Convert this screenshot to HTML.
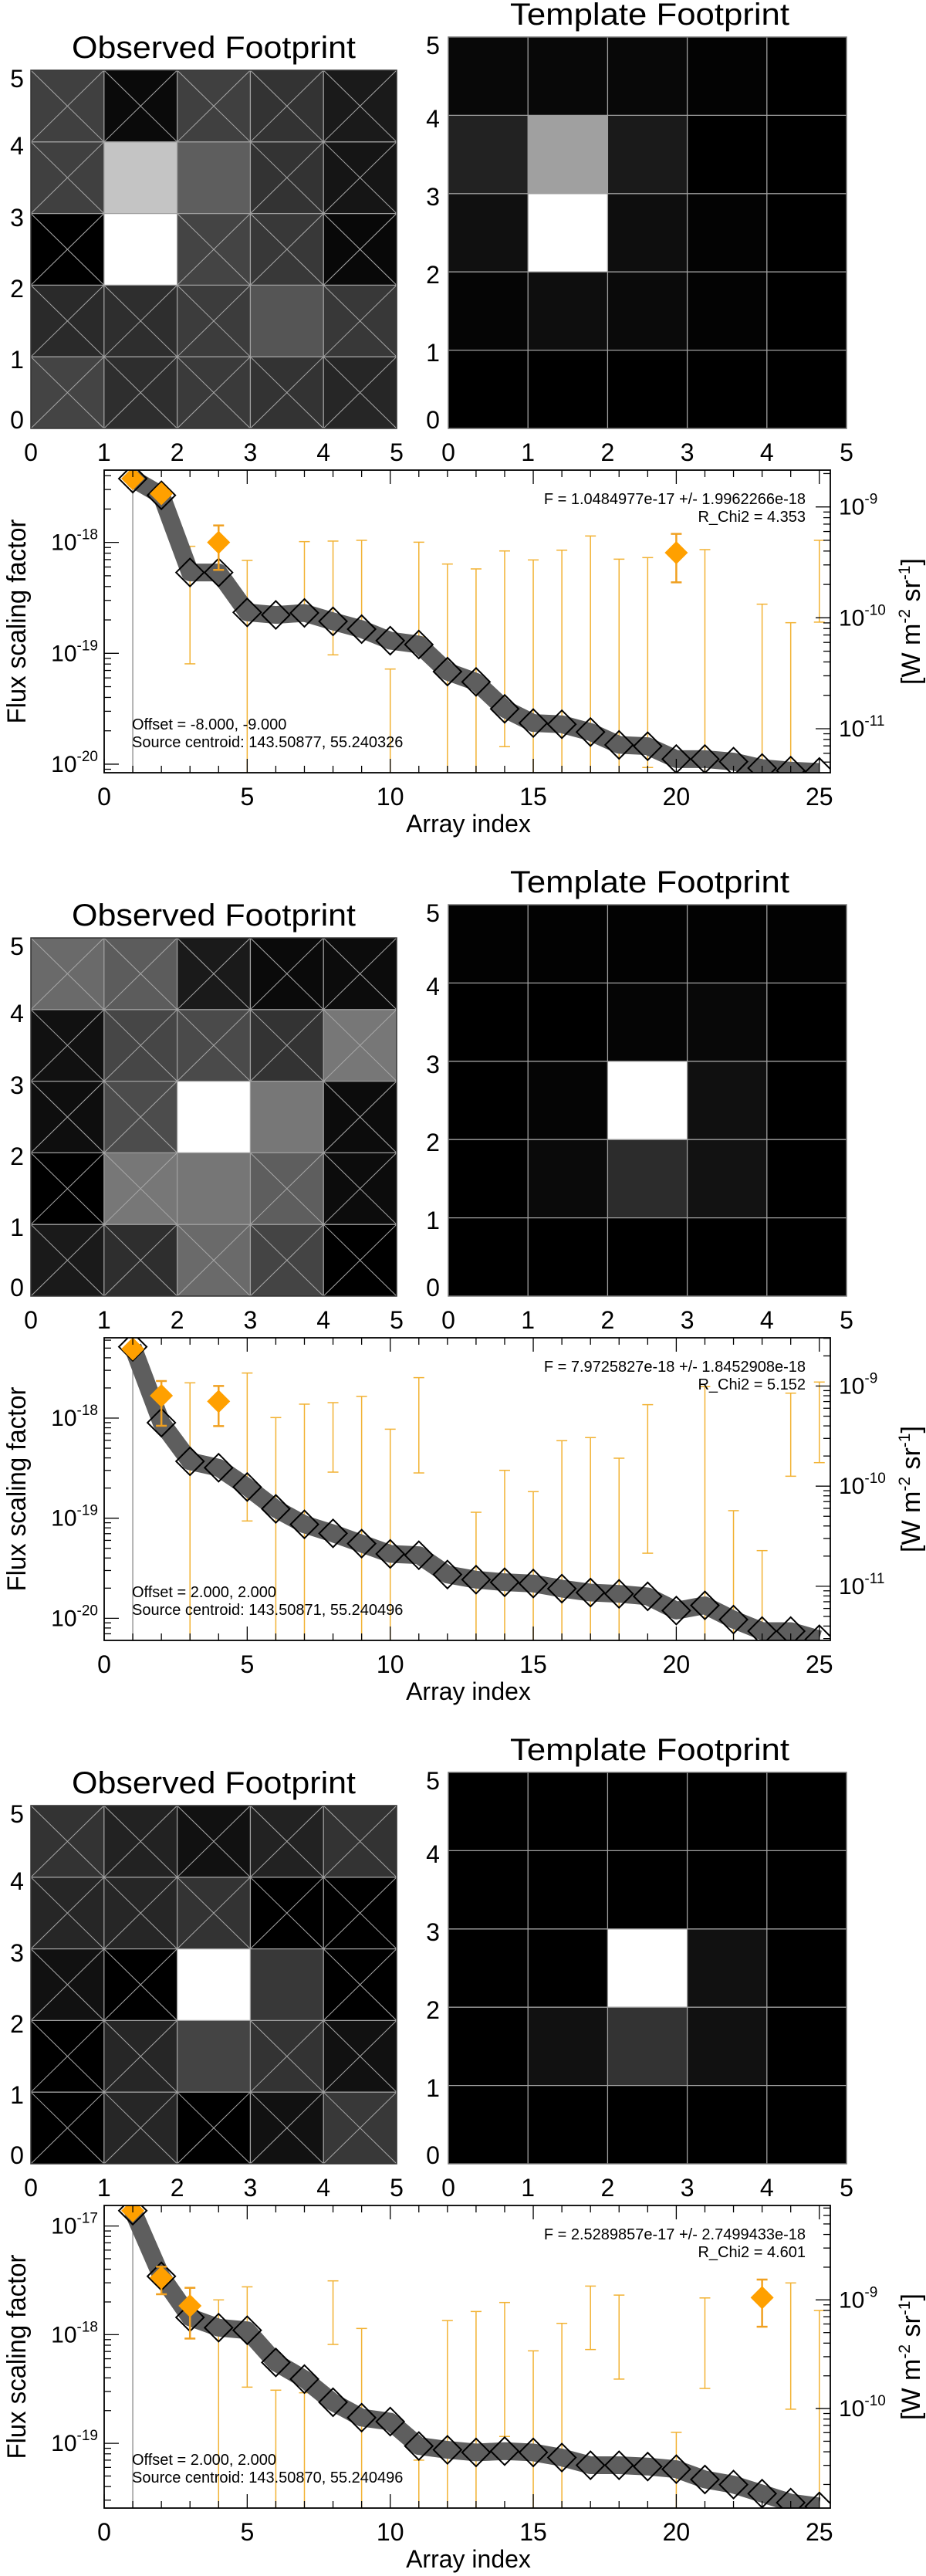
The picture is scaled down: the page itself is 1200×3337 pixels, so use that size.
<!DOCTYPE html>
<html><head><meta charset="utf-8"><title>Footprint fits</title>
<style>html,body{margin:0;padding:0;background:#fff}svg{display:block}text{font-family:"Liberation Sans",sans-serif;fill:#000}</style>
</head><body>
<svg id="fig" xmlns="http://www.w3.org/2000/svg" width="1200" height="3337" viewBox="0 0 1200 3337">
<rect width="1200" height="3337" fill="#fff"/>
</svg>
<script>
// ---------- DATA ----------
const obsGrid1 = [["#404040","#0a0a0a","#404040","#333333","#1a1a1a"],["#404040","#c4c4c4","#5e5e5e","#333333","#151515"],["#000000","#ffffff","#444444","#383838","#080808"],["#2a2a2a","#2e2e2e","#3c3c3c","#555555","#383838"],["#444444","#2e2e2e","#3a3a3a","#333333","#262626"]];
const tplGrid1 = [["#080808","#080808","#080808","#030303","#000000"],["#222222","#a0a0a0","#1a1a1a","#000000","#000000"],["#101010","#ffffff","#0e0e0e","#030303","#000000"],["#050505","#0e0e0e","#0a0a0a","#030303","#000000"],["#000000","#000000","#000000","#000000","#000000"]];
const obsGrid2 = [["#6a6a6a","#5c5c5c","#1a1a1a","#0a0a0a","#0c0c0c"],["#111111","#464646","#4a4a4a","#333333","#777777"],["#0e0e0e","#4c4c4c","#ffffff","#777777","#0c0c0c"],["#000000","#777777","#767676","#5e5e5e","#0c0c0c"],["#1a1a1a","#2e2e2e","#6a6a6a","#444444","#000000"]];
const tplGrid2 = [["#020202","#020202","#020202","#020202","#020202"],["#000000","#000000","#050505","#080808","#000000"],["#000000","#050505","#ffffff","#101010","#000000"],["#000000","#0a0a0a","#2c2c2c","#121212","#000000"],["#000000","#000000","#000000","#000000","#000000"]];
const obsGrid3 = [["#333333","#222222","#111111","#222222","#333333"],["#262626","#262626","#333333","#000000","#000000"],["#111111","#000000","#ffffff","#383838","#000000"],["#000000","#262626","#444444","#333333","#111111"],["#000000","#262626","#000000","#111111","#383838"]];
const tplGrid3 = [["#000000","#000000","#000000","#000000","#000000"],["#000000","#000000","#000000","#000000","#000000"],["#000000","#000000","#ffffff","#111111","#000000"],["#000000","#111111","#333333","#111111","#000000"],["#000000","#000000","#000000","#000000","#000000"]];
// cells used in the fit (no cross): [row, col], row 0 = top
const fitCells1 = [[1,1],[1,2],[2,1],[3,3]];
const fitCells2 = [[2,2],[2,3],[3,2]];
const fitCells3 = [[2,2],[2,3],[3,2]];

// log10 flux scaling factors, array index 1..25
const logFlux1 = [-17.425,-17.575,-18.271,-18.271,-18.631,-18.654,-18.636,-18.712,-18.782,-18.886,-18.921,-19.165,-19.258,-19.501,-19.629,-19.640,-19.710,-19.826,-19.838,-19.954,-19.954,-19.977,-20.035,-20.058,-20.07];
const errIdx1 = [3,5,7,8,9,10,11,12,13,14,15,16,17,18,19,21,23,24,25];
const errHi1 = [-18.035,-18.162,-17.993,-17.988,-17.981,-19.142,-17.998,-18.195,-18.239,-18.077,-18.158,-18.070,-17.942,-18.151,-18.137,-18.065,-18.557,-18.724,-17.981];
const errLo1 = [-19.095,null,-18.624,-19.014,-18.777,null,-18.852,null,null,-19.842,null,null,null,null,-20.030,null,null,null,-18.719];
const orgIdx1 = [1,2,4,20];
const orgVal1 = [-17.425,-17.56,-18.0,-18.093];
const orgHi1 = [null,null,-17.847,-17.923];
const orgLo1 = [null,null,-18.248,-18.360];
const yRange1 = [-20.077,-17.348];

const logFlux2 = [-17.288,-18.046,-18.432,-18.496,-18.689,-18.907,-19.062,-19.152,-19.254,-19.357,-19.370,-19.563,-19.614,-19.640,-19.653,-19.704,-19.743,-19.756,-19.781,-19.923,-19.871,-20.013,-20.128,-20.128,-20.21];
const errIdx2 = [3,5,6,7,8,9,10,11,13,14,15,16,17,18,19,21,22,23,24,25];
const errHi2 = [-17.648,-17.550,-17.995,-17.861,-17.846,-17.784,-18.111,-17.596,-18.941,-18.522,-18.735,-18.226,-18.195,-18.401,-17.866,-17.686,-18.925,-19.324,-17.751,-17.640];
const errLo2 = [null,-19.028,null,null,-18.540,null,null,-18.548,null,null,null,null,null,null,-19.350,null,null,null,-18.581,-18.445];
const orgIdx2 = [1,2,4];
const orgVal2 = [-17.31,-17.776,-17.833];
const orgHi2 = [null,-17.630,-17.679];
const orgLo2 = [null,-18.077,-18.080];
const yRange2 = [-20.221,-17.198];

const logFlux3 = [-16.859,-17.463,-17.841,-17.936,-17.960,-18.256,-18.409,-18.622,-18.764,-18.800,-19.025,-19.060,-19.084,-19.072,-19.084,-19.131,-19.202,-19.202,-19.214,-19.238,-19.333,-19.380,-19.463,-19.546,-19.581];
const errIdx3 = [4,5,6,7,8,9,11,12,13,14,15,16,17,18,20,21,24,25];
const errHi3 = [-17.680,-17.560,-18.511,-18.535,-17.505,-17.943,-19.155,-17.870,-17.787,-17.704,-18.149,-17.896,-17.553,-17.636,-18.899,-17.662,-17.524,-17.778];
const errLo3 = [null,-18.483,null,null,-18.090,null,null,null,null,-18.937,null,null,-18.137,-18.409,null,-18.495,-18.686,null];
const orgIdx3 = [1,2,3,23];
const orgVal3 = [-16.859,-17.475,-17.735,-17.659];
const orgHi3 = [null,-17.375,-17.569,-17.493];
const orgLo3 = [null,-17.628,-18.036,-17.927];
const yRange3 = [-19.596,-16.811];

const fitText = ["F = 1.0484977e-17 +/- 1.9962266e-18","F = 7.9725827e-18 +/- 1.8452908e-18","F = 2.5289857e-17 +/- 2.7499433e-18"];
const chiText = ["R_Chi2 = 4.353","R_Chi2 = 5.152","R_Chi2 = 4.601"];
const offText = ["Offset = -8.000, -9.000","Offset = 2.000, 2.000","Offset = 2.000, 2.000"];
const srcText = ["Source centroid: 143.50877, 55.240326","Source centroid: 143.50871, 55.240496","Source centroid: 143.50870, 55.240496"];
const xTicks = [0,5,10,15,20,25];
const gridTicks = [0,1,2,3,4,5];
const rightOffset = 8.68;

// ---------- DRAW ----------
const NS="http://www.w3.org/2000/svg";
const svg=document.getElementById('fig');
function el(tag,attrs,parent){const e=document.createElementNS(NS,tag);for(const k in attrs)e.setAttribute(k,attrs[k]);(parent||svg).appendChild(e);return e;}
function txt(s,attrs,parent){const t=el('text',attrs,parent);t.textContent=s;return t;}

function drawGrid(g,x0,x1,y0,y1,colors,fitCells,labelX,labelYs,name){
  const cw=(x1-x0)/5,ch=(y1-y0)/5;
  const crossed=fitCells!==null;
  for(let r=0;r<5;r++)for(let c=0;c<5;c++){
    const cell=el('rect',{x:x0+c*cw,y:y0+r*ch,width:cw+0.5,height:ch+0.5,fill:colors[r][c]},g);
    
    
    if(crossed && !fitCells.some(fc=>fc[0]===r&&fc[1]===c)){
      el('line',{x1:x0+c*cw,y1:y0+r*ch,x2:x0+(c+1)*cw,y2:y0+(r+1)*ch,stroke:'#a8a8a8','stroke-width':1},g);
      el('line',{x1:x0+(c+1)*cw,y1:y0+r*ch,x2:x0+c*cw,y2:y0+(r+1)*ch,stroke:'#a8a8a8','stroke-width':1},g);
    }
  }
  for(let i=1;i<5;i++){
    el('line',{x1:x0+i*cw,y1:y0,x2:x0+i*cw,y2:y1,stroke:'#a0a0a0','stroke-width':1.3},g);
    el('line',{x1:x0,y1:y0+i*ch,x2:x1,y2:y0+i*ch,stroke:'#a0a0a0','stroke-width':1.3},g);
  }
  el('rect',{x:x0,y:y0,width:x1-x0,height:y1-y0,fill:'none',stroke:crossed?'#333':'#777','stroke-width':1.5},g);
  gridTicks.forEach((v,i)=>{
    const t=txt(String(v),{x:x0+v*cw,y:y1+42,'font-size':32,'text-anchor':'middle'},g);
    
    
    const t2=txt(String(v),{x:labelX,y:labelYs[i],'font-size':32,'text-anchor':'middle'},g);
    
    
  });
}

function diamond(cx,cy,h){return `${cx},${cy-h} ${cx+h},${cy} ${cx},${cy+h} ${cx-h},${cy}`;}

function drawChart(g,off,logFlux,errIdx,errHi,errLo,orgIdx,orgVal,orgHi,orgLo,yRange,k){
  const L=135,R=1076,T=609+off,B=1001+off;
  const xs=v=>L+v*37.07;
  const ys=v=>B-(v-yRange[0])/(yRange[1]-yRange[0])*(B-T);
  const clampY=v=>Math.max(T,Math.min(B,ys(v)));
  const cp=el('clipPath',{id:'clip'+k},g);
  el('rect',{x:L,y:T,width:R-L,height:B-T},cp);
  const pg=el('g',{'clip-path':`url(#clip${k})`},g);
  
  
  errIdx.forEach((ix,i)=>{
    const x=xs(ix),yt=clampY(errHi[i]),yb=errLo[i]===null?B:clampY(errLo[i]);
    const eb=el('line',{x1:x,y1:yt,x2:x,y2:yb,stroke:'#f2b233','stroke-width':1.5},pg);
    
    
    el('line',{x1:x-7,y1:yt,x2:x+7,y2:yt,stroke:'#f2b233','stroke-width':1.5},pg);
    if(errLo[i]!==null)el('line',{x1:x-7,y1:yb,x2:x+7,y2:yb,stroke:'#f2b233','stroke-width':1.5},pg);
  });
  el('line',{x1:xs(1),y1:ys(logFlux[0]),x2:xs(1),y2:B,stroke:'#999','stroke-width':1.5},pg);
  const pts=logFlux.map((v,i)=>`${xs(i+1)},${ys(v)}`).join(' ');
  const band=el('polyline',{points:pts,fill:'none',stroke:'#5e5e5e','stroke-width':23,'stroke-linejoin':'round'},pg);
  
  
  logFlux.forEach((v,i)=>{
    const d=el('polygon',{points:diamond(xs(i+1),ys(v),18),fill:'none',stroke:'#000','stroke-width':2},pg);
    
    
  });
  orgIdx.forEach((ix,i)=>{
    const x=xs(ix);
    if(orgHi[i]!==null){
      const yt=ys(orgHi[i]),yb=ys(orgLo[i]);
      el('line',{x1:x,y1:yt,x2:x,y2:yb,stroke:'#f0a020','stroke-width':2.5},pg);
      el('line',{x1:x-7,y1:yt,x2:x+7,y2:yt,stroke:'#f0a020','stroke-width':2.5},pg);
      el('line',{x1:x-7,y1:yb,x2:x+7,y2:yb,stroke:'#f0a020','stroke-width':2.5},pg);
    }
    const o=el('polygon',{points:diamond(x,ys(orgVal[i]),15),fill:'#ffa000'},pg);
    
    
  });
  el('rect',{x:L,y:T,width:R-L,height:B-T,fill:'none',stroke:'#000','stroke-width':1.8},g);
  for(let v=0;v<=25;v++){
    const len=v%5===0?18:9,x=xs(v);
    el('line',{x1:x,y1:B,x2:x,y2:B-len,stroke:'#000','stroke-width':1.3},g);
    el('line',{x1:x,y1:T,x2:x,y2:T+len,stroke:'#000','stroke-width':1.3},g);
  }
  xTicks.forEach(v=>{
    const t=txt(String(v),{x:xs(v),y:B+42,'font-size':32,'text-anchor':'middle'},g);
    
    
  });
  function logTicks(lo,hi,xEdge,dir,labelFn){
    for(let d=Math.floor(lo);d<=Math.ceil(hi);d++){
      for(let m=1;m<10;m++){
        const lv=d+Math.log10(m);
        if(lv<lo||lv>hi)continue;
        const y=B-(lv-lo)/(hi-lo)*(B-T);
        const len=m===1?19:9;
        el('line',{x1:xEdge,y1:y,x2:xEdge+dir*len,y2:y,stroke:'#000','stroke-width':1.3},g);
        if(m===1)labelFn(d,y);
      }
    }
  }
  logTicks(yRange[0],yRange[1],L,1,(d,y)=>{
    const t=el('text',{x:127,y:y+10,'font-size':30,'text-anchor':'end'},g);
    
    
    const a=document.createElementNS(NS,'tspan');a.textContent='10';t.appendChild(a);
    const b=document.createElementNS(NS,'tspan');b.setAttribute('dy','-14');b.setAttribute('font-size','19');b.textContent=String(d);t.appendChild(b);
  });
  logTicks(yRange[0]+rightOffset,yRange[1]+rightOffset,R,-1,(d,y)=>{
    const t=el('text',{x:1087,y:y+10,'font-size':30,'text-anchor':'start'},g);
    
    
    const a=document.createElementNS(NS,'tspan');a.textContent='10';t.appendChild(a);
    const b=document.createElementNS(NS,'tspan');b.setAttribute('dy','-14');b.setAttribute('font-size','19');b.textContent=String(d);t.appendChild(b);
  });
  let t=txt(fitText[k],{x:1044,y:653+off,'font-size':20,'text-anchor':'end'},g);
  
  t=txt(chiText[k],{x:1044,y:676+off,'font-size':20,'text-anchor':'end'},g);
  
  t=txt(offText[k],{x:171,y:945+off,'font-size':20},g);
  
  t=txt(srcText[k],{x:171,y:968+off,'font-size':20},g);
  
  t=txt('Array index',{x:607,y:1078+off,'font-size':32,'text-anchor':'middle'},g);
  
  t=txt('Flux scaling factor',{x:0,y:0,'font-size':34,'text-anchor':'middle',transform:`translate(33,${805+off}) rotate(-90)`,textLength:265,lengthAdjust:'spacingAndGlyphs'},g);
  
  t=el('text',{x:0,y:0,'font-size':34,'text-anchor':'middle',transform:`translate(1192,${805+off}) rotate(-90)`},g);
  
  t.innerHTML='[W m<tspan dy="-13" font-size="21">-2</tspan><tspan dy="13"> sr</tspan><tspan dy="-13" font-size="21">-1</tspan><tspan dy="13">]</tspan>';
}

const panels=[
 [obsGrid1,tplGrid1,fitCells1,logFlux1,errIdx1,errHi1,errLo1,orgIdx1,orgVal1,orgHi1,orgLo1,yRange1],
 [obsGrid2,tplGrid2,fitCells2,logFlux2,errIdx2,errHi2,errLo2,orgIdx2,orgVal2,orgHi2,orgLo2,yRange2],
 [obsGrid3,tplGrid3,fitCells3,logFlux3,errIdx3,errHi3,errLo3,orgIdx3,orgVal3,orgHi3,orgLo3,yRange3]];
panels.forEach((p,k)=>{
  const off=k*1124;
  const g=el('g',{});
  
  
  const go=el('g',{},g);
  
  
  let t=txt('Observed Footprint',{x:277,y:75+off,'font-size':40,'text-anchor':'middle',textLength:368,lengthAdjust:'spacingAndGlyphs'},go);
  
  drawGrid(go,40,514,91+off,555+off,p[0],p[2],22,[113,200,293,385,477,555].map(v=>v+off).reverse(),'observed');
  const gt=el('g',{},g);
  
  
  t=txt('Template Footprint',{x:842,y:32+off,'font-size':40,'text-anchor':'middle',textLength:362,lengthAdjust:'spacingAndGlyphs'},gt);
  
  drawGrid(gt,581,1097,48+off,555+off,p[1],null,561,[70,165,266,367,468,555].map(v=>v+off).reverse(),'template');
  const gc=el('g',{},g);
  
  
  drawChart(gc,off,p[3],p[4],p[5],p[6],p[7],p[8],p[9],p[10],p[11],k);
});
</script>
</body></html>
